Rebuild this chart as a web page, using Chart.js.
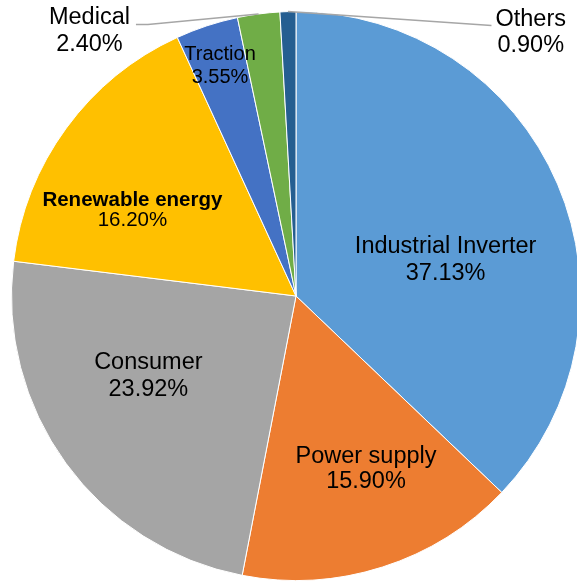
<!DOCTYPE html>
<html>
<head>
<meta charset="utf-8">
<script src="https://cdn.jsdelivr.net/npm/chart.js@4.4.0/dist/chart.umd.min.js"></script>
<style>
    html, body { margin: 0; padding: 0; background: #ffffff; overflow: hidden; }
    #wrap { width: 600px; height: 581px; }
</style>
</head>
<body>
<div id="wrap"><canvas id="pieChart" width="600" height="581"></canvas></div>
<script>
// market share by application
const segments = ['Industrial Inverter', 'Power supply', 'Consumer', 'Renewable energy', 'Traction', 'Medical', 'Others'];
const shares = [37.13, 15.90, 23.92, 16.20, 3.55, 2.40, 0.90];
const sliceColors = ['#5B9BD5', '#ED7D31', '#A5A5A5', '#FFC000', '#4472C4', '#70AD47', '#255E91'];

// label placement, in units of the pie radius from the centre
const labelPlaces = [
    { dx: 0.526, dy: -0.125, size: 23.5, gap: 27, bold: false },
    { dx: 0.246, dy: 0.607, size: 23.5, gap: 25, bold: false },
    { dx: -0.519, dy: 0.281, size: 23.5, gap: 27, bold: false },
    { dx: -0.575, dy: -0.302, size: 20.5, gap: 20, bold: true },
    { dx: -0.267, dy: -0.807, size: 20, gap: 23, bold: false },
    { dx: -0.726, dy: -0.930, size: 23.5, gap: 27, bold: false, leader: true },
    { dx: 0.825, dy: -0.926, size: 23.5, gap: 26, bold: false, leader: true }
];

const FONT = "'Liberation Sans', Arial, sans-serif";

const sliceLabels = {
    id: 'sliceLabels',
    afterDatasetsDraw(chart) {
        const ctx = chart.ctx;
        const arcs = chart.getDatasetMeta(0).data;
        ctx.save();
        arcs.forEach((arc, i) => {
            const p = arc.getProps(['x', 'y', 'startAngle', 'endAngle', 'outerRadius'], true);
            const place = labelPlaces[i];
            const R = p.outerRadius;
            const ax = p.x + place.dx * R;
            const ay = p.y + place.dy * R;
            const line1 = segments[i];
            const line2 = shares[i].toFixed(2) + '%';

            ctx.font = (place.bold ? 'bold ' : '') + place.size + 'px ' + FONT;
            const w1 = ctx.measureText(line1).width;
            ctx.font = place.size + 'px ' + FONT;
            const w2 = ctx.measureText(line2).width;

            if (place.leader) {
                const mid = (p.startAngle + p.endAngle) / 2;
                const ex = p.x + Math.cos(mid) * R;
                const ey = p.y + Math.sin(mid) * R;
                const half = Math.max(w1, w2) / 2;
                const left = ax < p.x;
                const lx = left ? ax + half + 6 : ax - half - 4;
                const ly = ay - 7;
                ctx.strokeStyle = '#A6A6A6';
                ctx.lineWidth = 1.5;
                ctx.beginPath();
                ctx.moveTo(lx, ly);
                if (left) ctx.lineTo(lx + 12, ly);
                ctx.lineTo(ex, ey);
                ctx.stroke();
            }

            ctx.fillStyle = '#000000';
            ctx.textAlign = 'center';
            ctx.textBaseline = 'middle';
            ctx.font = (place.bold ? 'bold ' : '') + place.size + 'px ' + FONT;
            ctx.fillText(line1, ax, ay - place.gap / 2);
            ctx.font = place.size + 'px ' + FONT;
            ctx.fillText(line2, ax, ay + place.gap / 2);
        });
        ctx.restore();
    }
};

document.addEventListener('DOMContentLoaded', function() {
    const ctx = document.getElementById('pieChart');

    new Chart(ctx.getContext('2d'), {
        type: 'pie',
        data: {
            labels: segments,
            datasets: [{
                data: shares,
                backgroundColor: sliceColors,
                borderColor: '#ffffff',
                borderWidth: 1
            }]
        },
        options: {
            responsive: false,
            animation: false,
            layout: {
                padding: { left: 11, top: 11, right: 19, bottom: 0 }
            },
            plugins: {
                legend: { display: false },
                tooltip: { enabled: false }
            }
        },
        plugins: [sliceLabels]
    });
});
</script>
</body>
</html>
